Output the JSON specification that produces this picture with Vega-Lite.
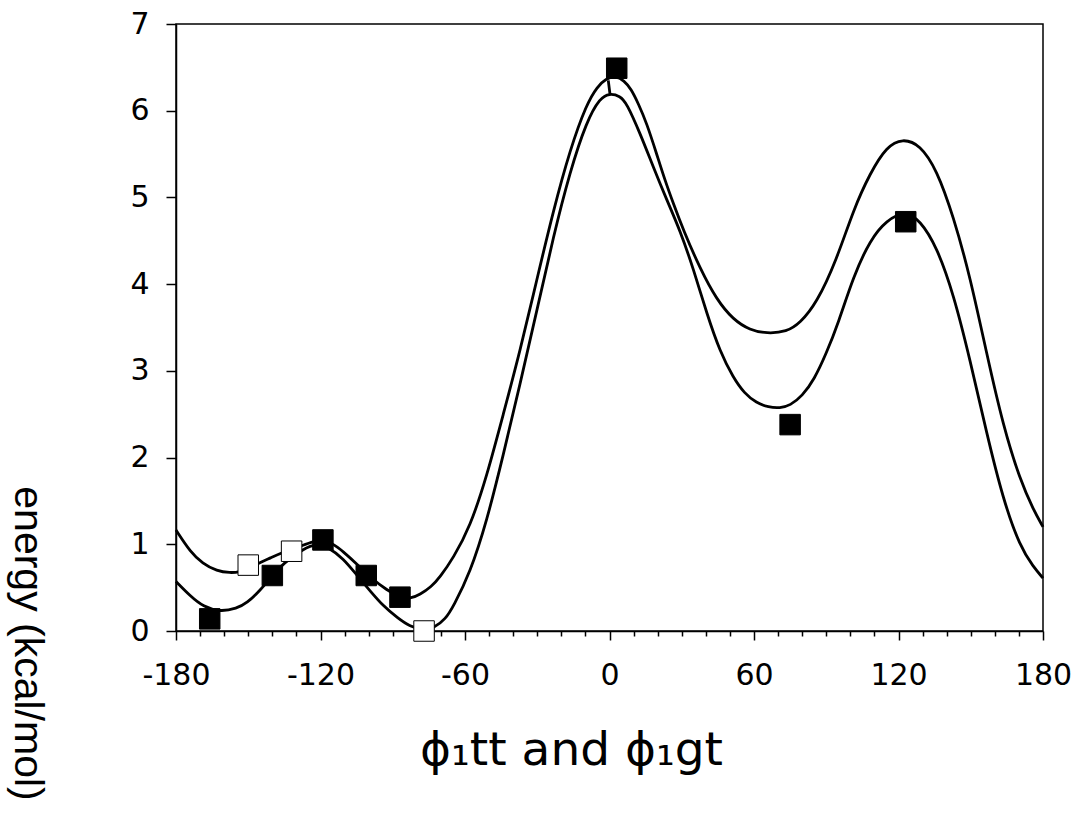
{
  "$schema": "https://vega.github.io/schema/vega-lite/v6.json",
  "width": 867,
  "height": 607,
  "autosize": {"type": "none"},
  "padding": {"left": 176, "top": 24, "right": 31, "bottom": 195},
  "background": "white",
  "config": {
    "view": {"stroke": "black", "strokeWidth": 1.5},
    "axis": {
      "grid": false,
      "domainColor": "black",
      "domainWidth": 1.5,
      "tickColor": "black",
      "tickWidth": 1.5,
      "labelColor": "black",
      "labelFont": "DejaVu Sans",
      "titleFont": "DejaVu Sans",
      "titleColor": "black",
      "titleFontWeight": "normal"
    }
  },
  "datasets": {
    "curves": [
      {"phi": -180, "energy": 1.165, "series": "A"},
      {"phi": -174, "energy": 0.91, "series": "A"},
      {"phi": -169, "energy": 0.78, "series": "A"},
      {"phi": -163, "energy": 0.69, "series": "A"},
      {"phi": -157.6, "energy": 0.67, "series": "A"},
      {"phi": -153.4, "energy": 0.68, "series": "A"},
      {"phi": -150, "energy": 0.72, "series": "A"},
      {"phi": -145, "energy": 0.79, "series": "A"},
      {"phi": -141, "energy": 0.84, "series": "A"},
      {"phi": -135.6, "energy": 0.91, "series": "A"},
      {"phi": -127.2, "energy": 0.99, "series": "A"},
      {"phi": -123, "energy": 1.03, "series": "A"},
      {"phi": -119, "energy": 1.05, "series": "A"},
      {"phi": -115, "energy": 1.01, "series": "A"},
      {"phi": -110.7, "energy": 0.92, "series": "A"},
      {"phi": -104.8, "energy": 0.77, "series": "A"},
      {"phi": -99.4, "energy": 0.62, "series": "A"},
      {"phi": -92.4, "energy": 0.47, "series": "A"},
      {"phi": -87, "energy": 0.39, "series": "A"},
      {"phi": -82.8, "energy": 0.37, "series": "A"},
      {"phi": -78.7, "energy": 0.42, "series": "A"},
      {"phi": -74, "energy": 0.51, "series": "A"},
      {"phi": -70.4, "energy": 0.62, "series": "A"},
      {"phi": -64.9, "energy": 0.84, "series": "A"},
      {"phi": -57.9, "energy": 1.2, "series": "A"},
      {"phi": -51, "energy": 1.78, "series": "A"},
      {"phi": -44.1, "energy": 2.5, "series": "A"},
      {"phi": -37.2, "energy": 3.22, "series": "A"},
      {"phi": -30.2, "energy": 4.05, "series": "A"},
      {"phi": -23.3, "energy": 4.85, "series": "A"},
      {"phi": -16.4, "energy": 5.55, "series": "A"},
      {"phi": -9.5, "energy": 6.08, "series": "A"},
      {"phi": -5, "energy": 6.28, "series": "A"},
      {"phi": -1.5, "energy": 6.37, "series": "A"},
      {"phi": 2.5, "energy": 6.4, "series": "A"},
      {"phi": 6, "energy": 6.35, "series": "A"},
      {"phi": 9, "energy": 6.25, "series": "A"},
      {"phi": 12, "energy": 6.08, "series": "A"},
      {"phi": 15.4, "energy": 5.86, "series": "A"},
      {"phi": 19.6, "energy": 5.5, "series": "A"},
      {"phi": 23, "energy": 5.2, "series": "A"},
      {"phi": 26.5, "energy": 4.93, "series": "A"},
      {"phi": 30.7, "energy": 4.62, "series": "A"},
      {"phi": 37.6, "energy": 4.18, "series": "A"},
      {"phi": 44.5, "energy": 3.82, "series": "A"},
      {"phi": 51.4, "energy": 3.59, "series": "A"},
      {"phi": 58.3, "energy": 3.47, "series": "A"},
      {"phi": 65.3, "energy": 3.43, "series": "A"},
      {"phi": 73.6, "energy": 3.45, "series": "A"},
      {"phi": 79.1, "energy": 3.55, "series": "A"},
      {"phi": 86, "energy": 3.78, "series": "A"},
      {"phi": 94.3, "energy": 4.28, "series": "A"},
      {"phi": 101.3, "energy": 4.86, "series": "A"},
      {"phi": 108.2, "energy": 5.28, "series": "A"},
      {"phi": 115.1, "energy": 5.59, "series": "A"},
      {"phi": 121.7, "energy": 5.68, "series": "A"},
      {"phi": 128.9, "energy": 5.61, "series": "A"},
      {"phi": 135.9, "energy": 5.32, "series": "A"},
      {"phi": 142.8, "energy": 4.78, "series": "A"},
      {"phi": 149.7, "energy": 4.09, "series": "A"},
      {"phi": 156.6, "energy": 3.2, "series": "A"},
      {"phi": 163.5, "energy": 2.36, "series": "A"},
      {"phi": 170.5, "energy": 1.74, "series": "A"},
      {"phi": 176, "energy": 1.4, "series": "A"},
      {"phi": 180, "energy": 1.2, "series": "A"},
      {"phi": -180, "energy": 0.57, "series": "B"},
      {"phi": -174, "energy": 0.4, "series": "B"},
      {"phi": -168.7, "energy": 0.28, "series": "B"},
      {"phi": -161.7, "energy": 0.22, "series": "B"},
      {"phi": -154.8, "energy": 0.26, "series": "B"},
      {"phi": -150.6, "energy": 0.32, "series": "B"},
      {"phi": -145, "energy": 0.47, "series": "B"},
      {"phi": -140, "energy": 0.64, "series": "B"},
      {"phi": -135.4, "energy": 0.78, "series": "B"},
      {"phi": -127.1, "energy": 0.95, "series": "B"},
      {"phi": -121.4, "energy": 1.01, "series": "B"},
      {"phi": -117, "energy": 0.97, "series": "B"},
      {"phi": -110.6, "energy": 0.84, "series": "B"},
      {"phi": -104.8, "energy": 0.64, "series": "B"},
      {"phi": -99, "energy": 0.45, "series": "B"},
      {"phi": -94, "energy": 0.29, "series": "B"},
      {"phi": -88, "energy": 0.15, "series": "B"},
      {"phi": -82.8, "energy": 0.05, "series": "B"},
      {"phi": -77.4, "energy": 0.01, "series": "B"},
      {"phi": -73, "energy": 0.03, "series": "B"},
      {"phi": -68, "energy": 0.14, "series": "B"},
      {"phi": -64.9, "energy": 0.28, "series": "B"},
      {"phi": -57.9, "energy": 0.67, "series": "B"},
      {"phi": -51, "energy": 1.26, "series": "B"},
      {"phi": -44.1, "energy": 2.03, "series": "B"},
      {"phi": -37.2, "energy": 2.84, "series": "B"},
      {"phi": -30.2, "energy": 3.69, "series": "B"},
      {"phi": -23.3, "energy": 4.55, "series": "B"},
      {"phi": -16.4, "energy": 5.3, "series": "B"},
      {"phi": -9.5, "energy": 5.88, "series": "B"},
      {"phi": -3.9, "energy": 6.15, "series": "B"},
      {"phi": 0, "energy": 6.2, "series": "B"},
      {"phi": 4.4, "energy": 6.17, "series": "B"},
      {"phi": 7.1, "energy": 6.09, "series": "B"},
      {"phi": 12.7, "energy": 5.74, "series": "B"},
      {"phi": 18.2, "energy": 5.35, "series": "B"},
      {"phi": 23.8, "energy": 4.97, "series": "B"},
      {"phi": 29.3, "energy": 4.62, "series": "B"},
      {"phi": 34.8, "energy": 4.18, "series": "B"},
      {"phi": 40.4, "energy": 3.66, "series": "B"},
      {"phi": 45.9, "energy": 3.22, "series": "B"},
      {"phi": 51.4, "energy": 2.92, "series": "B"},
      {"phi": 56, "energy": 2.74, "series": "B"},
      {"phi": 61, "energy": 2.63, "series": "B"},
      {"phi": 66, "energy": 2.58, "series": "B"},
      {"phi": 70.8, "energy": 2.57, "series": "B"},
      {"phi": 75, "energy": 2.6, "series": "B"},
      {"phi": 80, "energy": 2.71, "series": "B"},
      {"phi": 85, "energy": 2.9, "series": "B"},
      {"phi": 90, "energy": 3.2, "series": "B"},
      {"phi": 95, "energy": 3.55, "series": "B"},
      {"phi": 101.3, "energy": 4.09, "series": "B"},
      {"phi": 108.2, "energy": 4.51, "series": "B"},
      {"phi": 115.1, "energy": 4.74, "series": "B"},
      {"phi": 122.7, "energy": 4.84, "series": "B"},
      {"phi": 128.9, "energy": 4.74, "series": "B"},
      {"phi": 135.9, "energy": 4.43, "series": "B"},
      {"phi": 142.8, "energy": 3.89, "series": "B"},
      {"phi": 149.7, "energy": 3.13, "series": "B"},
      {"phi": 156.6, "energy": 2.28, "series": "B"},
      {"phi": 163.5, "energy": 1.51, "series": "B"},
      {"phi": 170.5, "energy": 0.97, "series": "B"},
      {"phi": 176, "energy": 0.74, "series": "B"},
      {"phi": 180, "energy": 0.61, "series": "B"},
      {"phi": 0.2, "energy": 6.19, "series": "C"},
      {"phi": -0.5, "energy": 6.35, "series": "C"}
    ],
    "points": [
      {"phi": -166, "energy": 0.14, "type": "filled"},
      {"phi": -140, "energy": 0.64, "type": "filled"},
      {"phi": -119, "energy": 1.05, "type": "filled"},
      {"phi": -101, "energy": 0.64, "type": "filled"},
      {"phi": -87, "energy": 0.39, "type": "filled"},
      {"phi": 3, "energy": 6.49, "type": "filled"},
      {"phi": 75, "energy": 2.38, "type": "filled"},
      {"phi": 123, "energy": 4.72, "type": "filled"},
      {"phi": -150, "energy": 0.76, "type": "open"},
      {"phi": -132, "energy": 0.92, "type": "open"},
      {"phi": -77, "energy": 0.0, "type": "open"}
    ]
  },
  "encoding": {
    "y": {
      "field": "energy",
      "type": "quantitative",
      "scale": {"domain": [0, 7], "nice": false, "zero": false},
      "axis": {
        "values": [0, 1, 2, 3, 4, 5, 6, 7],
        "tickSize": 10,
        "labelFontSize": 30,
        "labelPadding": 17,
        "title": "energy (kcal/mol)",
        "titleFont": "Liberation Sans",
        "titleFontSize": 41,
        "titleAngle": 90,
        "titleAlign": "center",
        "titleBaseline": "middle",
        "titleX": -150,
        "titleY": 619
      }
    }
  },
  "layer": [
    {
      "data": {"name": "curves"},
      "mark": {"type": "line", "color": "black", "strokeWidth": 2.8, "interpolate": "basis"},
      "encoding": {
        "x": {
          "field": "phi",
          "type": "quantitative",
          "scale": {"domain": [-180, 180], "nice": false},
          "axis": {
            "orient": "bottom",
            "values": [-180, -120, -60, 0, 60, 120, 180],
            "labelExpr": "'' + datum.value",
            "labelFlush": false,
            "tickSize": 9,
            "labelFontSize": 30,
            "labelPadding": 20,
            "title": "ϕ₁tt and ϕ₁gt",
            "titleFontSize": 47,
            "titleAlign": "center",
            "titleBaseline": "alphabetic",
            "titleX": 395,
            "titleY": 133
          }
        },
        "detail": {"field": "series"}
      }
    },
    {
      "data": {"name": "points"},
      "mark": {"type": "point", "shape": "square", "filled": true, "size": 420, "stroke": "black", "strokeWidth": 1, "opacity": 1},
      "encoding": {
        "x": {
          "field": "phi",
          "type": "quantitative",
          "axis": {
            "orient": "bottom",
            "values": [-170, -160, -150, -140, -130, -110, -100, -90, -80, -70, -50, -40, -30, -20, -10, 10, 20, 30, 40, 50, 70, 80, 90, 100, 110, 130, 140, 150, 160, 170],
            "tickSize": 5,
            "labels": false,
            "domain": false,
            "title": null
          }
        },
        "fill": {
          "field": "type",
          "type": "nominal",
          "scale": {"domain": ["filled", "open"], "range": ["black", "white"]},
          "legend": null
        }
      }
    }
  ],
  "resolve": {"axis": {"x": "independent"}}
}
